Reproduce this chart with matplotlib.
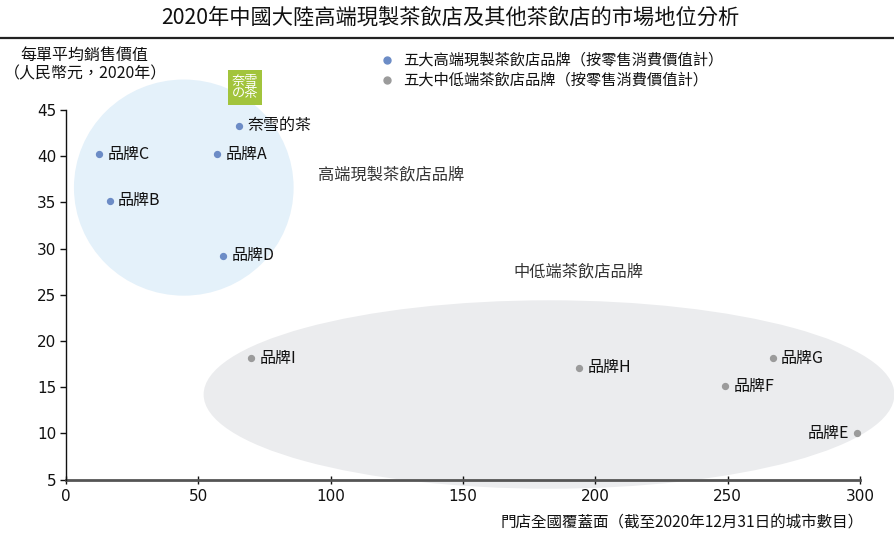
import matplotlib
matplotlib.use("Agg")
import matplotlib.pyplot as plt
from matplotlib.patches import Ellipse, Rectangle
from matplotlib.lines import Line2D

plt.rcParams['font.family'] = ['Noto Sans CJK TC', 'DejaVu Sans']

# ---- data ----
high_names = ["奈雪的茶", "品牌A", "品牌C", "品牌B", "品牌D"]
high_x = [65.5, 57, 12.5, 16.5, 59.5]
high_y = [43.3, 40.2, 40.2, 35.2, 29.2]

low_names = ["品牌I", "品牌H", "品牌G", "品牌F", "品牌E"]
low_x = [70, 194, 267, 249, 299]
low_y = [18.1, 17.1, 18.1, 15.1, 10.0]

x_ticks = [0, 50, 100, 150, 200, 250, 300]
y_ticks = [5, 10, 15, 20, 25, 30, 35, 40, 45]

title = "2020年中國大陸高端現製茶飲店及其他茶飲店的市場地位分析"
legend_labels = ["五大高端現製茶飲店品牌（按零售消費價值計）", "五大中低端茶飲店品牌（按零售消費價值計）"]
ylabel = "每單平均銷售價值\n（人民幣元，2020年）"
xlabel = "門店全國覆蓋面（截至2020年12月31日的城市數目）"
group_high = "高端現製茶飲店品牌"
group_low = "中低端茶飲店品牌"

blue = "#6c8cc6"
gray = "#9b9b9b"
txt = "#111111"

W, H = 894, 534
fig = plt.figure(figsize=(W / 100, H / 100), dpi=100)
ax = fig.add_axes([66 / W, (H - 479.5) / H, (860 - 66) / W, (479.5 - 110) / H])
ax.set_xlim(0, 300)
ax.set_ylim(5, 45)

# background regions
ax.add_patch(Ellipse((44.5, 36.6), 83, 23.4, facecolor="#e4f1fa", edgecolor="none", zorder=0, clip_on=False))
ax.add_patch(Ellipse((182.5, 14.2), 261, 20.4, facecolor="#ebecee", edgecolor="none", zorder=0, clip_on=False))

ax.scatter(high_x, high_y, s=18, color=blue, zorder=3, clip_on=False)
ax.scatter(low_x, low_y, s=18, color=gray, zorder=3, clip_on=False)

for n, x, y in zip(high_names, high_x, high_y):
    ax.annotate(n, (x, y), xytext=(6, 0), textcoords="offset points", va="center", ha="left",
                fontsize=11.5, color=txt, zorder=4)
for n, x, y in zip(low_names, low_x, low_y):
    if n == "品牌E":
        ax.annotate(n, (x, y), xytext=(-6, 0), textcoords="offset points", va="center", ha="right",
                    fontsize=11.5, color=txt, zorder=4)
    else:
        ax.annotate(n, (x, y), xytext=(6, 0), textcoords="offset points", va="center", ha="left",
                    fontsize=11.5, color=txt, zorder=4)

# spines / ticks
for s in ["top", "right"]:
    ax.spines[s].set_visible(False)
ax.spines["left"].set_color("#111111")
ax.spines["left"].set_linewidth(1.0)
ax.spines["bottom"].set_color("#555555")
ax.spines["bottom"].set_linewidth(2.0)
ax.spines["bottom"].set_zorder(2)
ax.set_xticks(x_ticks)
ax.set_yticks(y_ticks)
ax.tick_params(axis="y", direction="out", length=4, width=1, color="#111111", labelsize=11, pad=3,
               labelcolor=txt)
ax.tick_params(axis="x", direction="inout", length=6, width=1, color="#111111", labelsize=11, pad=4,
               labelcolor=txt)
for lab in ax.get_xticklabels() + ax.get_yticklabels():
    lab.set_family(["Liberation Sans Narrow", "DejaVu Sans"])
ax.set_facecolor("none")

# group labels
fig.text(318 / W, 1 - 175 / H, group_high, fontsize=11.7, va="center", ha="left", color="#333333", style="italic")
fig.text(513 / W, 1 - 272 / H, group_low, fontsize=11.7, va="center", ha="left", color="#333333", style="italic")

# title and rule
fig.text(450 / W, 1 - 18 / H, title, fontsize=15.3, ha="center", va="center", color=txt)
fig.add_artist(Line2D([0, 1], [1 - 38 / H, 1 - 38 / H], color="#222222", linewidth=1.6))

# y label
fig.text(20 / W, 1 - 55 / H, "每單平均銷售價值", fontsize=11.5, ha="left", va="center", color=txt)
fig.text(4 / W, 1 - 74 / H, "（人民幣元，2020年）", fontsize=11.5, ha="left", va="center", color=txt)

# x label
fig.text(864 / W, 1 - 523 / H, xlabel, fontsize=11.2, ha="right", va="center", color=txt)

# legend
for i, (lab, col) in enumerate(zip(legend_labels, [blue, gray])):
    yy = 1 - (60 + 20 * i) / H
    fig.add_artist(Line2D([387 / W], [yy], marker="o", markersize=5, color=col, linestyle="none"))
    fig.text(403 / W, yy, lab, fontsize=11, ha="left", va="center", color=txt)

# logo
fig.add_artist(Rectangle((228 / W, 1 - 105 / H), 34 / W, 35 / H, facecolor="#a2c43c", edgecolor="none",
                         transform=fig.transFigure))
fig.text(245 / W, 1 - 87.5 / H, "奈雪\nの茶", fontsize=9.5, ha="center", va="center", color="white",
         family=["Noto Sans CJK JP", "DejaVu Sans"], linespacing=1.0)

fig.savefig("out.png", dpi=100)
